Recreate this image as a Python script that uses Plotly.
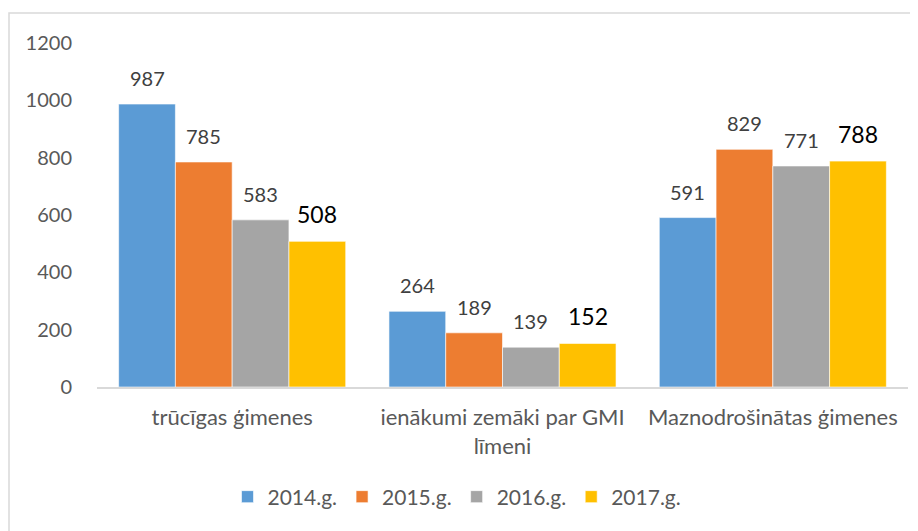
import plotly.graph_objects as go

categories = ["trūcīgas ģimenes", "ienākumi zemāki par GMI<br>līmeni", "Maznodrošinātas ģimenes"]
series_names = ["2014.g.", "2015.g.", "2016.g.", "2017.g."]
v2014 = [987, 264, 591]
v2015 = [785, 189, 829]
v2016 = [583, 139, 771]
v2017 = [508, 152, 788]
yticks = [0, 200, 400, 600, 800, 1000, 1200]

values = [v2014, v2015, v2016, v2017]
colors = ["#5B9BD5", "#ED7D31", "#A5A5A5", "#FFC000"]
FONT = "Lato, Carlito, Calibri, sans-serif"

W, H = 918, 531
O = 8  # page body margin offset
L, R, T, B = 97 - O, 10 + O, 43 - O, 144 + O
pw = W - L - R
ph = H - T - B
bargap = 0.16
barw = pw / 3 * (1 - bargap) / 4


def px_x(sx):
    return (sx - O - L) / pw


def px_y(sy):
    return (H - B - (sy - O)) / ph


fig = go.Figure()
for name, vals, col in zip(series_names, values, colors):
    fig.add_trace(go.Bar(
        x=categories, y=vals, name=name,
        marker=dict(color=col, line=dict(color="white", width=0.6)),
    ))

annotations = []
for i, (name, vals) in enumerate(zip(series_names, values)):
    last = (i == 3)
    for c, v in zip(categories, vals):
        annotations.append(dict(
            x=c, y=v, xref="x", yref="y", text=str(v), showarrow=False,
            xshift=(i - 1.5) * barw, yshift=11 if last else 12,
            yanchor="bottom",
            font=dict(family=FONT, size=23 if last else 20,
                      color="#000000" if last else "#404040"),
        ))

fig.update_layout(
    width=W, height=H,
    margin=dict(l=L, r=R, t=T, b=B, autoexpand=False),
    paper_bgcolor="white", plot_bgcolor="white",
    barmode="group", bargap=bargap, bargroupgap=0,
    font=dict(family=FONT, size=20, color="#595959"),
    showlegend=True,
    legend=dict(orientation="h", x=px_x(457), xanchor="center",
                y=px_y(497), yanchor="middle",
                font=dict(family=FONT, size=21, color="#595959"),
                itemwidth=30, tracegroupgap=0),
    annotations=annotations,
    shapes=[dict(type="rect", xref="paper", yref="paper",
                 x0=px_x(9), x1=px_x(925),
                 y0=px_y(540), y1=px_y(13),
                 line=dict(color="#D9D9D9", width=1.5), fillcolor="rgba(0,0,0,0)",
                 layer="below")],
)
fig.update_yaxes(range=[0, 1200], tickvals=yticks, showgrid=False, zeroline=False,
                 showline=False, ticks="", ticklabelstandoff=24, automargin=False,
                 tickfont=dict(family=FONT, size=20, color="#595959"))
fig.update_xaxes(showgrid=False, showline=True, linecolor="#D9D9D9", linewidth=1.5,
                 ticks="", ticklabelstandoff=10, automargin=False,
                 tickfont=dict(family=FONT, size=22, color="#595959"))

fig.write_html("out.html")
